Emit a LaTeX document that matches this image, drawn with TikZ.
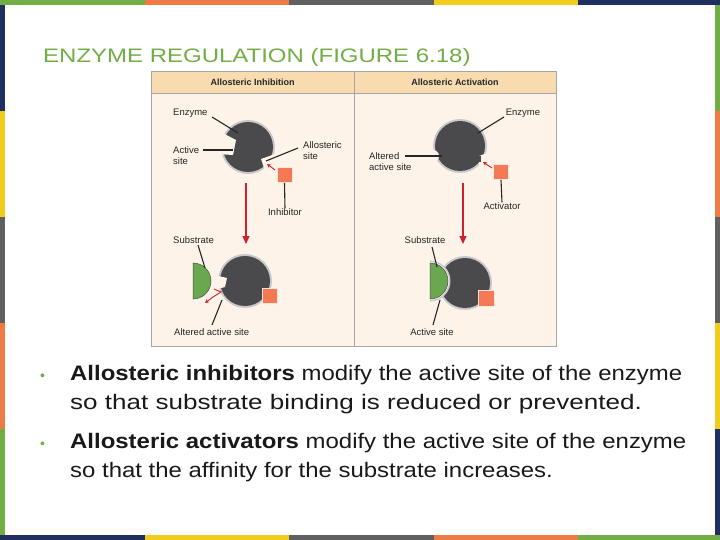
\documentclass[tikz,border=0pt]{standalone}
\usepackage{fontspec}
\setmainfont{Liberation Sans}
\usetikzlibrary{arrows.meta}
\definecolor{cgreen}{HTML}{72AD46}
\definecolor{corange}{HTML}{EE7A45}
\definecolor{cgray}{HTML}{606060}
\definecolor{cyellow}{HTML}{F2CC1A}
\definecolor{cnavy}{HTML}{1F2F5F}
\definecolor{panelbg}{HTML}{FDF3E8}
\definecolor{headbg}{HTML}{F8DBAE}
\definecolor{enz}{HTML}{4A4A4D}
\definecolor{enzrim}{HTML}{C9C9CB}
\definecolor{sq}{HTML}{F37A55}
\definecolor{sub}{HTML}{6AA84F}
\definecolor{redarr}{HTML}{CE2030}
\begin{document}
\begin{tikzpicture}[x=1pt,y=-1pt,
  lbl/.style={font=\fontsize{9.5}{11}\selectfont, text=black!85, inner sep=0pt, align=left},
  ptr/.style={draw=black!85, line width=1.1pt},
  redar/.style={draw=redarr, line width=1.1pt, -{Triangle[length=8pt,width=7pt]}},
  redsm/.style={draw=redarr, line width=0.9pt, -{Stealth[length=4pt,width=4pt]}},
  sqbox/.style={fill=sq, draw=white!80!sq, line width=0.6pt},
  bul/.style={font=\fontsize{21}{29}\selectfont, anchor=base west, inner sep=0pt, text=black!90},
  dot/.style={text=cgreen, font=\fontsize{14}{14}\selectfont, anchor=base west, inner sep=0pt}]
\useasboundingbox (0,0) rectangle (720,540);
\fill[white] (0,0) rectangle (720,540);
% borders
\foreach \c [count=\i from 0] in {cgreen,corange,cgray,cyellow,cnavy}{
  \fill[\c] (\i*144.5,0) rectangle ({(\i+1)*144.5},5);}
\foreach \c [count=\i from 0] in {cnavy,cyellow,cgray,corange,cgreen}{
  \fill[\c] (\i*144.5,535) rectangle ({(\i+1)*144.5},540);}
\foreach \c [count=\i from 0] in {cnavy,cyellow,cgray,corange,cgreen}{
  \fill[\c] (0,{5+\i*106}) rectangle (5,{5+(\i+1)*106});}
\foreach \c [count=\i from 0] in {cgreen,corange,cgray,cyellow,cnavy}{
  \fill[\c] (715,{5+\i*106}) rectangle (720,{5+(\i+1)*106});}
% title
\node[anchor=base west, inner sep=0pt, text=cgreen, font=\fontsize{19.5}{20}\selectfont] (title) at (43,63) {\scalebox{1.23}[1]{ENZYME REGULATION (FIGURE 6.18)}};
% figure frame
\fill[panelbg] (151,71) rectangle (556,346);
\fill[headbg] (151,71) rectangle (556,93);
\draw[black!35, line width=0.6pt] (151,71) rectangle (556,346) (151,93) -- (556,93) (354,71) -- (354,346);
\node[font=\bfseries\fontsize{9}{10}\selectfont, text=black!85] (h1) at (252.5,82) {Allosteric Inhibition};
\node[font=\bfseries\fontsize{9}{10}\selectfont, text=black!85] (h2) at (455,82) {Allosteric Activation};
% ---------- left top enzyme
\begin{scope}[shift={(248,147)}]
 \fill[enzrim] (0,0) circle (27);
 \fill[enz] (0,0) circle (25);
 \fill[panelbg] (-31,-17) -- (-12,-7) -- (-15,8) -- (-31,7) -- cycle;
 \fill[panelbg] (13,12) -- (30,6) -- (30,28) -- (17,24) -- cycle;
\end{scope}
\coordinate (e1) at (238,133); \coordinate (as1) at (233,150); \coordinate (al1) at (266,161);
\node[sqbox, minimum size=15pt, inner sep=0pt] (inh) at (284.5,175) {};
\coordinate (inhs) at (275,170);
\draw[redsm] (inhs) -- (267,164);
\node[lbl, anchor=west] (tEnz1) at (173,113) {Enzyme};
\node[lbl, anchor=west] (tAct1) at (173,156) {Active\\site};
\node[lbl, anchor=west] (tAllo) at (303,151) {Allosteric\\site};
\node[lbl] (tInh) at (285,212) {Inhibitor};
\draw[ptr] (212,117) -- (e1);
\draw[ptr] (203,150) -- (as1);
\draw[ptr] (298,148) -- (al1);
\draw[ptr] (inh.south) -- (tInh.north);
% big arrow left
\coordinate (a1s) at (246,183); \coordinate (a1e) at (246,244);
\draw[redar] (a1s) -- (a1e);
% ---------- left bottom enzyme
\begin{scope}[shift={(245,281)}]
 \fill[enzrim] (0,0) circle (27);
 \fill[enz] (0,0) circle (25);
 \fill[panelbg] (-31,-6) -- (-18,-3) -- (-20,6) -- (-31,9) -- cycle;
\end{scope}
\node[sqbox, minimum size=15pt, inner sep=0pt] (inh2) at (269.5,295.5) {};
\fill[sub, draw=black!70, line width=0.5pt] (193,263) arc (-90:90:18) -- cycle;
\coordinate (sub1) at (205,268);
\draw[draw=redarr, line width=0.9pt] (214,289) -- (221,292) -- (213,297);
\coordinate (rb) at (213,297);
\draw[redsm] (rb) -- (205,303);
\node[lbl, anchor=west] (tSub1) at (173,240) {Substrate};
\node[lbl, anchor=west] (tAlt1) at (174,332) {Altered active site};
\draw[ptr] (198,245) -- (sub1);
\coordinate (alt1) at (222,300);
\draw[ptr] (212,325) -- (alt1);
% ---------- right top enzyme
\begin{scope}[shift={(460,146)}]
 \fill[enzrim] (0,0) circle (27);
 \fill[enz] (0,0) circle (25);
 \fill[panelbg] (-27,10) circle (6);
 \fill[panelbg] (19,10) -- (30,6) -- (30,28) -- (19,22) -- cycle;
 \fill[enz] (17,10) rectangle (21,16);
\end{scope}
\node[sqbox, minimum size=15pt, inner sep=0pt] (actv) at (501,172) {};
\coordinate (acs) at (492,168);
\draw[redsm] (acs) -- (483,162);
\node[lbl] (tEnz2) at (523,113) {Enzyme};
\node[lbl, anchor=west] (tAlt2) at (369,162) {Altered\\active site};
\node[lbl] (tActv) at (502,206) {Activator};
\coordinate (e2) at (478,133); \coordinate (as2) at (442,156);
\draw[ptr] (504,117) -- (e2);
\draw[ptr] (405,156) -- (as2);
\draw[ptr] (actv.south) -- (tActv.north);
\coordinate (a2s) at (463,183); \coordinate (a2e) at (463,244);
\draw[redar] (a2s) -- (a2e);
% ---------- right bottom enzyme
\begin{scope}[shift={(465,283)}]
 \fill[enzrim] (0,0) circle (27);
 \fill[enz] (0,0) circle (25);
\end{scope}
\fill[enzrim] (430,281) circle (20.5);
\fill[panelbg] (430,281) circle (19);
\fill[panelbg] (405,255) rectangle (430,310);
\fill[sub, draw=black!70, line width=0.5pt] (430,263) arc (-90:90:18) -- cycle;
\node[sqbox, minimum size=16pt, inner sep=0pt] (actv2) at (486.5,298.5) {};
\node[lbl] (tSub2) at (425,240) {Substrate};
\node[lbl] (tAs2) at (432,332) {Active site};
\coordinate (sub2) at (437,267); \coordinate (as3) at (440,300);
\draw[ptr] (432,247) -- (sub2);
\draw[ptr] (433,325) -- (as3);
% ---------- bullets
\node[dot] (b1) at (40,380) {•};
\node[bul] (t1a) at (70,380) {\scalebox{1.14}[1]{\textbf{Allosteric inhibitors} modify the active site of the enzyme}};
\node[bul] (t1b) at (70,409) {\scalebox{1.24}[1]{so that substrate binding is reduced or prevented.}};
\node[dot] (b2) at (40,448) {•};
\node[bul] (t2a) at (70,448) {\scalebox{1.14}[1]{\textbf{Allosteric activators} modify the active site of the enzyme}};
\node[bul] (t2b) at (70,477) {\scalebox{1.14}[1]{so that the affinity for the substrate increases.}};
\end{tikzpicture}
\end{document}
